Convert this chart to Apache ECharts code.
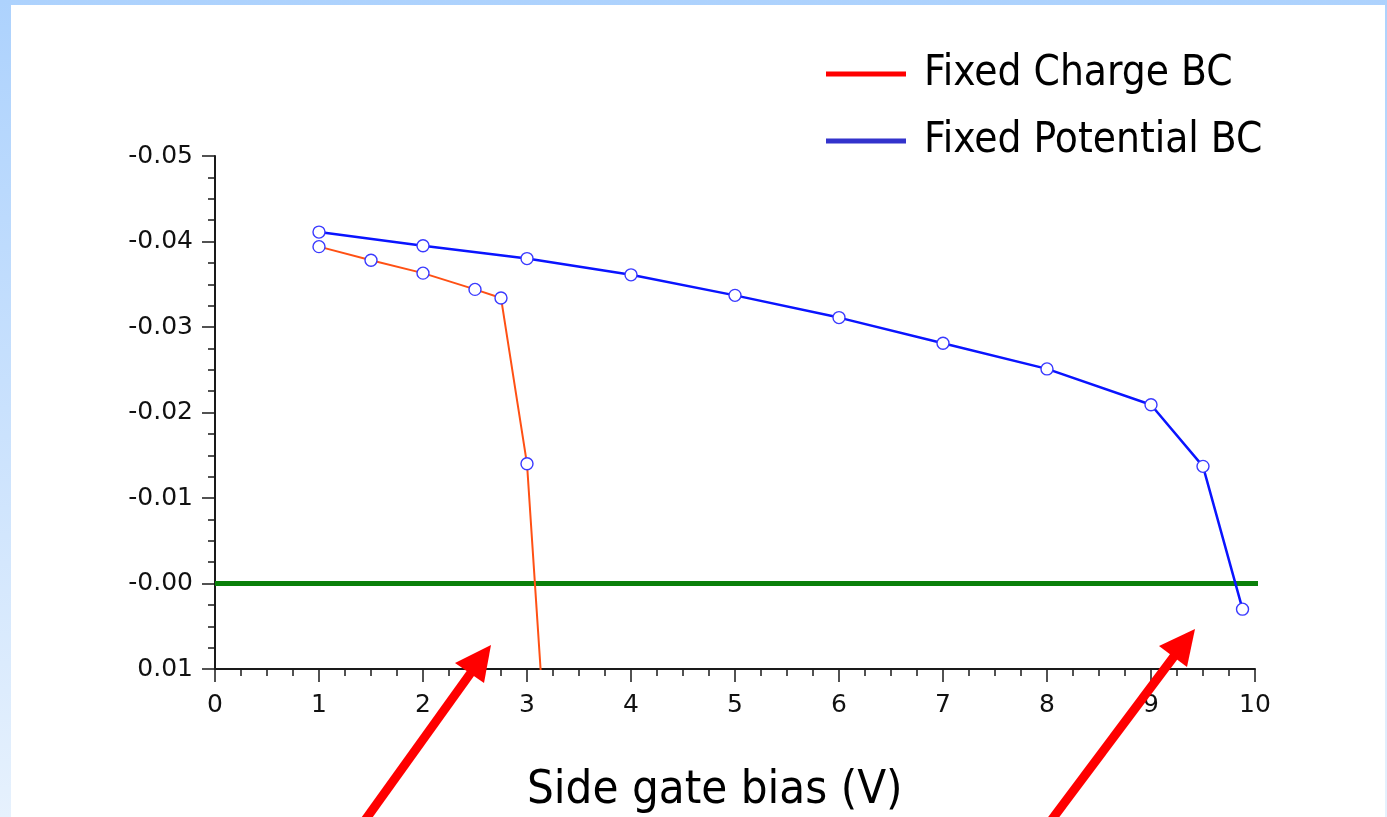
<!DOCTYPE html>
<html>
<head>
<meta charset="utf-8">
<script src="https://cdn.jsdelivr.net/npm/echarts@6/dist/echarts.min.js"></script>
<style>
  html, body { margin: 0; padding: 0; width: 1387px; height: 817px; overflow: hidden; }
  body { background: linear-gradient(to bottom, #add2fd 0%, #c9e1fd 50%, #e6f1fd 100%); position: relative; }
  #panel { position: absolute; left: 11px; top: 5px; width: 1374px; height: 812px; background: #ffffff; }
  #chart { position: absolute; left: 0; top: 0; width: 1387px; height: 817px; }
</style>
</head>
<body>
<div id="panel"></div>
<div id="chart"></div>
<script>
// Side gate bias (V)
const chargeBias = [1, 1.5, 2, 2.5, 2.75, 3, 3.25];
const chargeValues = [-0.0394, -0.0378, -0.0363, -0.0344, -0.0334, -0.0140, 0.032];

const potentialBias = [1, 2, 3, 4, 5, 6, 7, 8, 9, 9.5, 9.88];
const potentialValues = [-0.0411, -0.0395, -0.0380, -0.0361, -0.0337, -0.0311, -0.0281, -0.0251, -0.0209, -0.0137, 0.0030];

// reference level drawn across the plot
const zeroLineBias = [0, 10.15];
const zeroLineValues = [0, 0];

const yTickLabels = ['-0.05', '-0.04', '-0.03', '-0.02', '-0.01', '-0.00', '0.01'];
const xTickLabels = ['0', '1', '2', '3', '4', '5', '6', '7', '8', '9', '10'];

const seriesNames = ['Fixed Charge BC', 'Fixed Potential BC'];
const axisTitle = 'Side gate bias (V)';

const zip = (xs, ys) => xs.map((x, i) => [x, ys[i]]);

const chart = echarts.init(document.getElementById('chart'), null, { renderer: 'canvas' });

const tickFont = { fontFamily: 'DejaVu Sans', fontSize: 25, color: '#111' };
const slideFont = "'DejaVu Sans Condensed', 'Liberation Sans', sans-serif";
const axisColor = '#1a1a1a';

const markerStyle = { color: '#ffffff', borderColor: '#3a3aff', borderWidth: 1.4 };

chart.setOption({
  backgroundColor: 'transparent',
  animation: false,
  grid: { left: 215, top: 156, right: 132, bottom: 148, containLabel: false },
  xAxis: {
    type: 'value', min: 0, max: 10, interval: 1,
    axisLine: { show: true, onZero: false, lineStyle: { color: axisColor, width: 2 } },
    axisTick: { show: true, length: 13, lineStyle: { color: axisColor, width: 1.5 } },
    minorTick: { show: true, splitNumber: 4, length: 7, lineStyle: { color: axisColor, width: 1.5 } },
    splitLine: { show: false },
    axisLabel: Object.assign({ margin: 24, formatter: (v, i) => xTickLabels[i] }, tickFont)
  },
  yAxis: {
    type: 'value', min: -0.05, max: 0.01, interval: 0.01, inverse: true,
    axisLine: { show: true, onZero: false, lineStyle: { color: axisColor, width: 2 } },
    axisTick: { show: true, length: 13, lineStyle: { color: axisColor, width: 1.5 } },
    minorTick: { show: true, splitNumber: 4, length: 7, lineStyle: { color: axisColor, width: 1.5 } },
    splitLine: { show: false },
    axisLabel: Object.assign({ margin: 22, formatter: (v, i) => yTickLabels[i] }, tickFont)
  },
  legend: {
    orient: 'vertical', left: 826, top: 53, padding: 0,
    itemWidth: 80, itemHeight: 5, itemGap: 25, itemTextGap: 18,
    selectedMode: false,
    textStyle: { fontFamily: slideFont, fontSize: 42, color: '#000', padding: [0, 0, 0, 13] },
    data: [
      { name: seriesNames[0], icon: 'rect', itemStyle: { color: '#ff0000', borderWidth: 0 } },
      { name: seriesNames[1], icon: 'rect', itemStyle: { color: '#3333cc', borderWidth: 0 } }
    ]
  },
  series: [
    {
      name: 'zero', type: 'line', data: zip(zeroLineBias, zeroLineValues),
      clip: false, silent: true, symbol: 'none', z: 1,
      lineStyle: { color: '#0a800a', width: 5 }
    },
    {
      name: seriesNames[0], type: 'line', data: zip(chargeBias, chargeValues),
      clip: true, symbol: 'circle', symbolSize: 12, z: 3,
      lineStyle: { color: '#ff5014', width: 2 },
      itemStyle: markerStyle
    },
    {
      name: seriesNames[1], type: 'line', data: zip(potentialBias, potentialValues),
      clip: true, symbol: 'circle', symbolSize: 12, z: 4,
      lineStyle: { color: '#0a14ff', width: 2.5 },
      itemStyle: markerStyle
    }
  ],
  graphic: [
    {
      type: 'text', left: 527, top: 767, z: 50,
      style: { text: axisTitle, font: "47px 'DejaVu Sans Condensed', 'Liberation Sans', sans-serif", fill: '#000' }
    },
    // annotation arrows
    { type: 'line', z: 100, shape: { x1: 358, y1: 830, x2: 475, y2: 667 }, style: { stroke: '#ff0000', lineWidth: 9 } },
    { type: 'polygon', z: 100, shape: { points: [[491, 645], [455, 663], [484, 683]] }, style: { fill: '#ff0000' } },
    { type: 'line', z: 100, shape: { x1: 1044, y1: 830, x2: 1178, y2: 651 }, style: { stroke: '#ff0000', lineWidth: 9 } },
    { type: 'polygon', z: 100, shape: { points: [[1195, 629], [1159, 646], [1187, 667]] }, style: { fill: '#ff0000' } }
  ]
});
</script>
</body>
</html>
